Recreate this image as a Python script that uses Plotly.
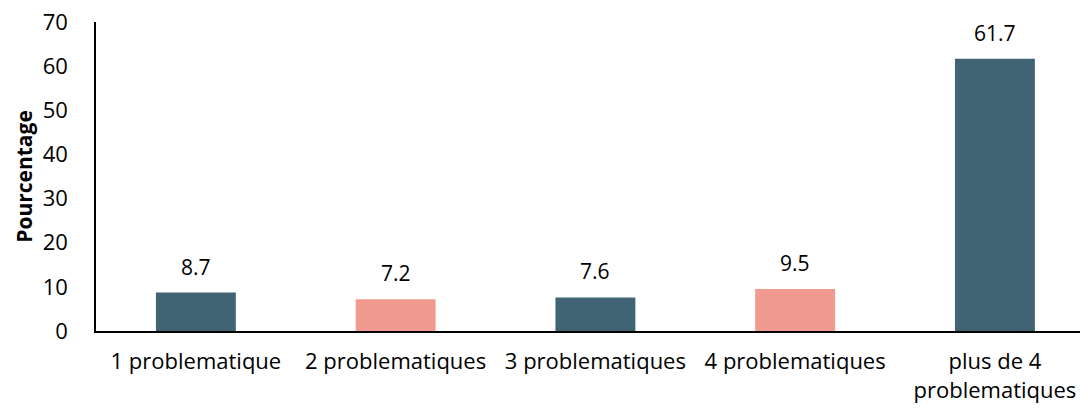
import plotly.graph_objects as go

categories = ["1 problematique", "2 problematiques", "3 problematiques",
              "4 problematiques", "plus de 4<br>problematiques"]
values = [8.7, 7.2, 7.6, 9.5, 61.7]
bar_colors = ["#416475", "#F09A90", "#416475", "#F09A90", "#416475"]
y_ticks = [0, 10, 20, 30, 40, 50, 60, 70]

fig = go.Figure()
fig.add_trace(go.Bar(
    x=categories, y=values,
    marker=dict(color=bar_colors, line=dict(width=0)),
    showlegend=False,
))

# valeurs au-dessus des barres
for cat, v in zip(categories, values):
    fig.add_annotation(x=cat, y=v, text=f"{v:.1f}", showarrow=False,
                       yanchor="bottom", yshift=10,
                       font=dict(size=21, color="black"))

# la page ajoute 8px de marge (body), donc figure un peu plus petite
fig.update_layout(
    width=1080, height=400,
    margin=dict(l=88, r=0, t=14, b=77, autoexpand=False),
    paper_bgcolor="white", plot_bgcolor="white",
    font=dict(family="Open Sans, sans-serif", size=22, color="black"),
    bargap=0.6,
)
# l'axe continue au-dela du bord droit dans l'original
fig.update_xaxes(range=[-0.5, 4.466], showline=True, linecolor="black", linewidth=1.5,
                 ticks="", tickfont=dict(size=22), ticklabelstandoff=10,
                 automargin=False)
fig.update_yaxes(range=[0, 70], tickvals=y_ticks, showgrid=False,
                 showline=True, linecolor="black", linewidth=1.5,
                 zeroline=False, ticks="", automargin=False,
                 tickfont=dict(size=22), ticklabelstandoff=22,
                 ticklabeloverflow="allow",
                 title=dict(text="<b>Pourcentage</b>", font=dict(size=21), standoff=4))

fig.write_html("out.html")
